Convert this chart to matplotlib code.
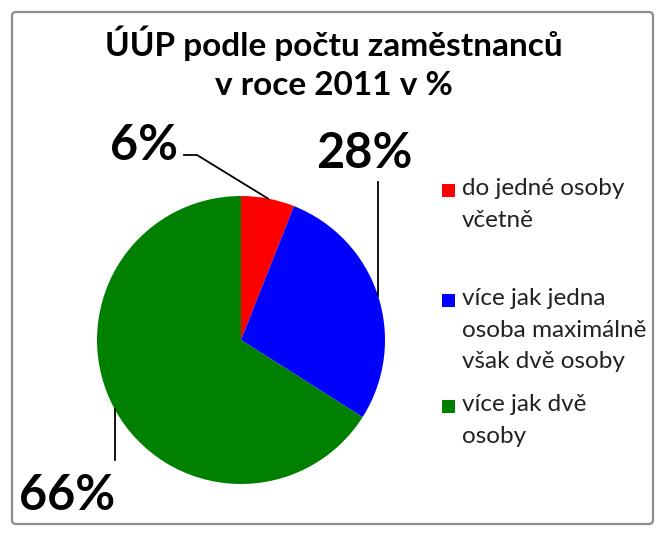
import matplotlib
matplotlib.use("Agg")
import matplotlib.pyplot as plt
import numpy as np
from matplotlib.patches import FancyBboxPatch, Rectangle
from matplotlib.lines import Line2D
from matplotlib.transforms import Affine2D

title = "ÚÚP podle počtu zaměstnanců\nv roce 2011 v %"
categories = ["do jedné osoby\nvčetně",
              "více jak jedna\nosoba maximálně\nvšak dvě osoby",
              "více jak dvě\nosoby"]
values = [6, 28, 66]
colors = ["#FF0000", "#0000FF", "#008000"]

plt.rcParams['font.family'] = ['Lato', 'DejaVu Sans']

W, H = 660, 533
fig = plt.figure(figsize=(6.6, 5.33), dpi=100)
fig.patch.set_facecolor("white")

# pixel transform (origin top-left)
pix = Affine2D().scale(1.0 / W, -1.0 / H).translate(0, 1) + fig.transFigure

# border
fig.patches.append(FancyBboxPatch((12, 12), 641, 512, boxstyle="round,pad=0,rounding_size=4",
                                  transform=pix, facecolor="none", edgecolor="#8c8c8c", lw=1.6))

cx, cy, r = 241, 340, 144
ax = fig.add_axes([(cx - r) / W, (H - cy - r) / H, 2 * r / W, 2 * r / H])
wedges, _ = ax.pie(values, colors=colors, startangle=90, counterclock=False,
                   wedgeprops=dict(linewidth=0))
ax.set_xlim(-1, 1)
ax.set_ylim(-1, 1)
ax.set_aspect("auto")
ax.axis("off")

fig.text(334 / W, 1 - 63 / H, title, ha="center", va="center", fontsize=24,
         fontweight="bold", linespacing=1.4, color="black")

# data labels with leader lines
label_pos = [(144, 145), (364, 153), (67, 495)]
for w, v, (lx, ly), k in zip(wedges, values, label_pos, range(3)):
    ang = np.deg2rad((w.theta1 + w.theta2) / 2)
    px = cx + r * np.cos(ang)
    py = cy - r * np.sin(ang)
    fig.text(lx / W, 1 - ly / H, f"{v}%", ha="center", va="center", fontsize=35,
             fontweight="bold", color="black")
    if k == 0:
        xs, ys = [184, 197, px], [155, 155, py]
    elif k == 1:
        xs, ys = [px, px], [182, py]
    else:
        xs, ys = [px, px], [py, 460]
    fig.lines.append(Line2D(xs, ys, transform=pix, color="black", lw=1.3))

# legend
leg_y = [190, 300, 406]
for c, lab, y in zip(colors, categories, leg_y):
    fig.patches.append(Rectangle((442, y - 6.5), 13, 13, transform=pix,
                                 facecolor=c, edgecolor="none"))
    fig.text(462 / W, 1 - (y - 12) / H, lab, ha="left", va="top", fontsize=17.5,
             linespacing=1.62, color="#222222")

fig.savefig("out.png", dpi=100, facecolor="white")
